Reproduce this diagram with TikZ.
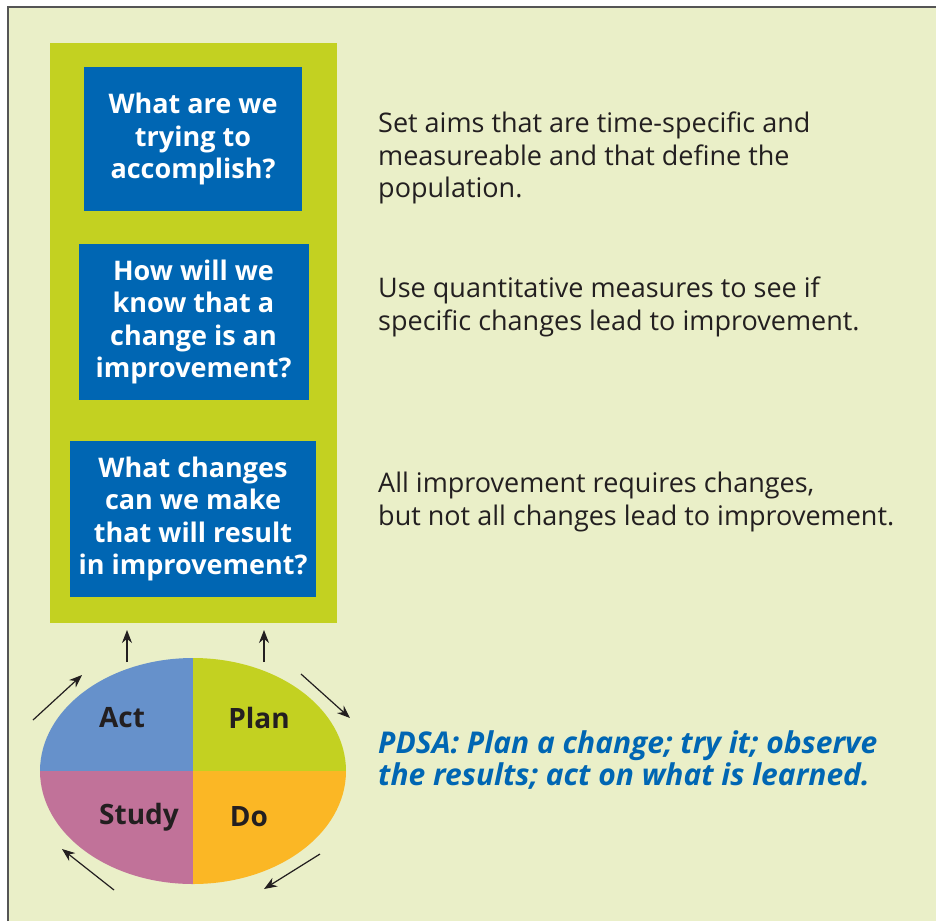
\documentclass[tikz,border=0pt]{standalone}
\usepackage{fontspec}
\setmainfont{Open Sans}
\usetikzlibrary{arrows.meta}
\usetikzlibrary{positioning}

\definecolor{paleback}{HTML}{EAEFC8}
\definecolor{limegreen}{HTML}{C3D121}
\definecolor{boxblue}{HTML}{0066B3}
\definecolor{actblue}{HTML}{6691CB}
\definecolor{studypink}{HTML}{C17299}
\definecolor{doorange}{HTML}{FBB725}
\definecolor{inkdark}{HTML}{231F20}
\definecolor{framegray}{HTML}{555555}

\tikzset{
	question/.style = {fill=boxblue, text=white, align=center, inner sep=0pt,
		font=\fontsize{27}{32.5}\selectfont\bfseries},
	remark/.style = {anchor=north west, align=left, inner sep=0pt, text=inkdark,
		font=\fontsize{27}{32.5}\selectfont},
	phase/.style = {text=inkdark, inner sep=0pt, font=\fontsize{28}{30}\selectfont\bfseries},
	cycle/.style = {-{Stealth[length=13pt, width=10pt]}, line width=1.2pt, inkdark}
}

\begin{document}
\begin{tikzpicture}[x=1pt, y=-1pt]
	\useasboundingbox (0,0) rectangle (936,921);
	\fill [white] (0,0) rectangle (936,921);
	\fill [paleback] (8,7) rectangle (936,921);
	\draw [framegray, line width = 2pt] (8,921) -- (8,7) -- (936,7);
	
	% green column with the three questions
	\fill [limegreen] (50,43) rectangle (337,623);
	\node [question, minimum width=218pt, minimum height=144pt] (aim) at (193,139)
		{What are we\\trying to\\accomplish?};
	\node [question, minimum width=230pt, minimum height=156pt] (measure) at (193.5,322)
		{How will we\\know that a\\change is an\\improvement?};
	\node [question, minimum width=246pt, minimum height=156pt] (change) at (193,519)
		{What changes\\can we make\\that will result\\in improvement?};
	
	\node [remark] (aimtext) at (378,112)
		{Set aims that are time-specific and\\measureable and that define the\\population.};
	\node [remark] (measuretext) at (378,277)
		{Use quantitative measures to see if\\specific changes lead to improvement.};
	\node [remark] (changetext) at (378,472)
		{All improvement requires changes,\\but not all changes lead to improvement.};
	\node [remark, text=boxblue, font=\fontsize{30}{32}\selectfont\bfseries\itshape] (pdsatext) at (378,730)
		{PDSA: Plan a change; try it; observe\\the results; act on what is learned.};
	
	% PDSA wheel
	\begin{scope}
		\clip (193,771) ellipse [x radius=153, y radius=113];
		\fill [actblue] (30,650) rectangle (193,771);
		\fill [limegreen] (193,650) rectangle (356,771);
		\fill [studypink] (30,771) rectangle (193,890);
		\fill [doorange] (193,771) rectangle (356,890);
	\end{scope}
	\node [phase] (act) at (122,718) {Act};
	\node [phase] (plan) at (259,718) {Plan};
	\node [phase] (study) at (139,817) {Study};
	\node [phase] (do) at (249,817) {Do};
	
	\draw [cycle] (127,662) -- (127,630);
	\draw [cycle] (264,662) -- (264,630);
	\draw [cycle] (301,674) -- (350,718);
	\draw [cycle] (320,854) -- (264,889);
	\draw [cycle] (114,890) -- (62,849);
	\draw [cycle] (33,720) -- (82,675);
\end{tikzpicture}
\end{document}
